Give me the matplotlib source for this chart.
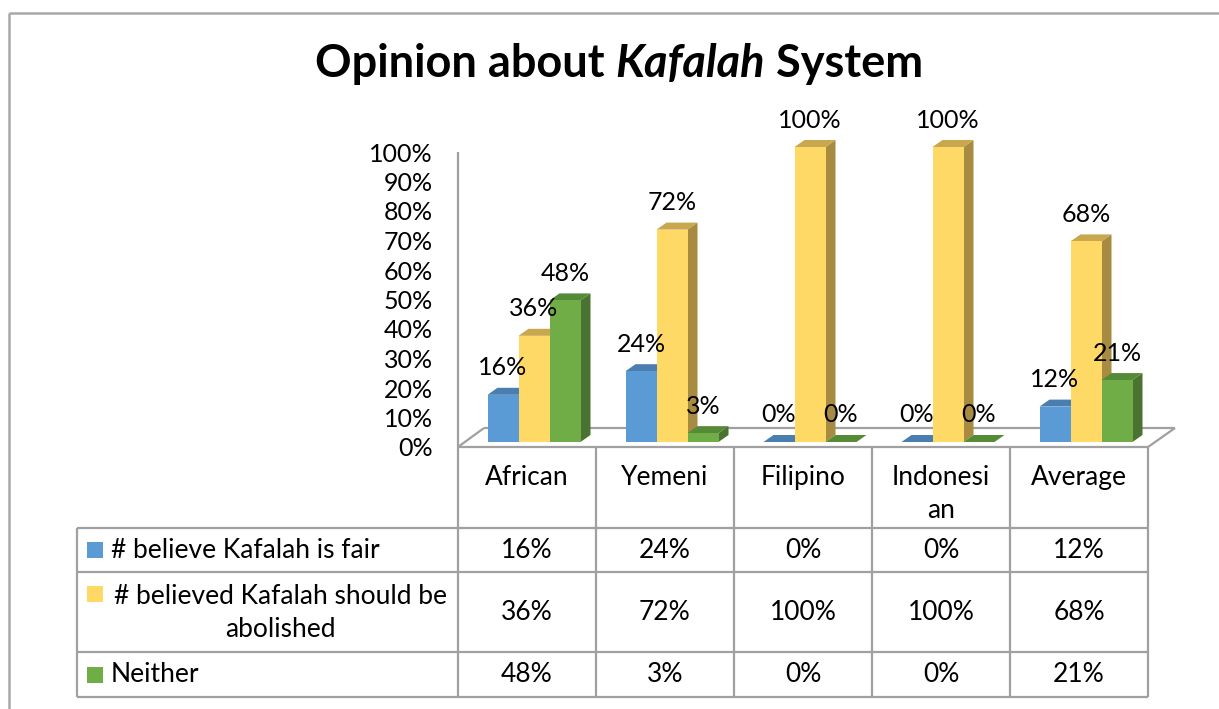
import textwrap
import matplotlib
matplotlib.use("Agg")
import matplotlib.pyplot as plt
from matplotlib.patches import Polygon, Rectangle
from matplotlib import transforms
from matplotlib.lines import Line2D

# ---- data ----
categories = ["African", "Yemeni", "Filipino", "Indonesian", "Average"]
series_names = ["# believe Kafalah is fair",
                "# believed Kafalah should be abolished",
                "Neither"]
fair = [0.16, 0.24, 0.00, 0.00, 0.12]
abolish = [0.36, 0.72, 1.00, 1.00, 0.68]
neither = [0.48, 0.03, 0.00, 0.00, 0.21]
y_ticks = [0.0, 0.1, 0.2, 0.3, 0.4, 0.5, 0.6, 0.7, 0.8, 0.9, 1.0]

series = [fair, abolish, neither]

# ---- styling ----
FONT = "Lato"
plt.rcParams["font.family"] = [FONT, "DejaVu Sans"]
front_col = ["#5B9BD5", "#FFD966", "#70AD47"]
top_col = ["#4A7DB0", "#C9A74C", "#558B37"]
side_col = ["#3D6A96", "#A68B40", "#4A7230"]
grid_col = "#A0A0A0"

W, H = 1219, 709
fig = plt.figure(figsize=(W / 100, H / 100), dpi=100)

# full-figure pixel canvas for frame, table and title
base = fig.add_axes([0, 0, 1, 1])
base.set_xlim(0, W)
base.set_ylim(H, 0)
base.axis("off")

def seg(x0, y0, x1, y1, lw=1.6, color=grid_col):
    base.add_line(Line2D([x0, x1], [y0, y1], color=color, lw=lw,
                         solid_capstyle="butt"))

# chart frame
seg(9, 13, W, 13, lw=1.8, color="#A8A8A8")
seg(9, 13, 9, H, lw=1.8, color="#A8A8A8")

# ---- plot area (front plane) ----
PL, PR, PB, PT = 458, 1148, 447, 152
ax = fig.add_axes([PL / W, 1 - PB / H, (PR - PL) / W, (PB - PT) / H])
ax.set_xlim(0, len(categories))
ax.set_ylim(0, 1)
ax.patch.set_alpha(0)
for s in ax.spines.values():
    s.set_visible(False)
ax.set_xticks([])
ax.set_yticks(y_ticks)
ax.set_yticklabels([f"{round(t * 100)}%" for t in y_ticks])
ax.tick_params(axis="y", length=0, pad=18, labelsize=18)

px_x = (PR - PL) / len(categories)   # pixels per category
px_y = (PB - PT)                     # pixels per unit value

# floor parallelogram and value axis line
fd_x, fd_y = 26, 19
seg(PL, PB, PR, PB)
seg(PL + fd_x, PB - fd_y, PR + fd_x + 1, PB - fd_y)
seg(PL, PB, PL + fd_x, PB - fd_y)
seg(PR, PB, PR + fd_x + 1, PB - fd_y)
seg(PL, PT, PL, PB)

# bars sit slightly back from the front plane
bar_tr = transforms.offset_copy(ax.transData, fig=fig, x=7, y=5, units="dots")
label_tr = transforms.offset_copy(ax.transData, fig=fig, x=7, y=5 + 27,
                                  units="dots")

bw = 31 / px_x
ddx, ddy = 10 / px_x, 7 / px_y

for si, vals in enumerate(series):
    for ci, v in enumerate(vals):
        xc = ci + 0.5 + (si - 1) * bw
        x0, x1 = xc - bw / 2, xc + bw / 2
        side = Polygon([(x1, 0), (x1, v), (x1 + ddx, v + ddy), (x1 + ddx, ddy)],
                       closed=True, facecolor=side_col[si], edgecolor="none",
                       transform=bar_tr, clip_on=False, zorder=3)
        top = Polygon([(x0, v), (x1, v), (x1 + ddx, v + ddy), (x0 + ddx, v + ddy)],
                      closed=True, facecolor=top_col[si], edgecolor="none",
                      transform=bar_tr, clip_on=False, zorder=3)
        ax.add_patch(side)
        ax.add_patch(top)
        if v > 0:
            ax.add_patch(Rectangle((x0, 0), bw, v, facecolor=front_col[si],
                                   edgecolor="none", transform=bar_tr,
                                   clip_on=False, zorder=3))
        ax.text(xc, v, f"{round(v * 100)}%", transform=label_tr,
                ha="center", va="center", fontsize=18, zorder=5)

# ---- title ----
fig.canvas.draw()
renderer = fig.canvas.get_renderer()
title_parts = [("Opinion about ", "normal"), ("Kafalah", "italic"), (" System", "normal")]
tsize = 32.5
pieces = []
for txt, style in title_parts:
    t = base.text(0, 64, txt, fontsize=tsize, fontweight="bold", fontstyle=style,
                  ha="left", va="center")
    pieces.append(t)
widths = [p.get_window_extent(renderer).width for p in pieces]
x = 619 - sum(widths) / 2
for p, w in zip(pieces, widths):
    p.set_x(x)
    x += w

# ---- data table ----
cols = [458, 596, 734, 872, 1010, 1148]
rows = [528, 572, 652, 697]
TL = 77
for cx in cols:
    seg(cx, PB, cx, rows[-1])
seg(TL, rows[0], TL, rows[-1])
for ry in rows:
    seg(TL, ry, cols[-1], ry)

tfs = 19
for ci, name in enumerate(categories):
    label = textwrap.fill(name, 8, break_long_words=True)
    base.text((cols[ci] + cols[ci + 1]) / 2, 465, label, ha="center", va="top",
              fontsize=tfs, linespacing=1.42)

key_h = 16
for si, (name, vals) in enumerate(zip(series_names, series)):
    r0, r1 = rows[si], rows[si + 1]
    yc = (r0 + r1) / 2
    for ci, v in enumerate(vals):
        base.text((cols[ci] + cols[ci + 1]) / 2, yc, f"{round(v * 100)}%",
                  ha="center", va="center", fontsize=tfs)
    label = textwrap.fill(name, 28)
    nlines = label.count("\n") + 1
    first_y = yc - (nlines - 1) * 18
    base.add_patch(Rectangle((87, first_y - key_h / 2), 16, key_h,
                             facecolor=front_col[si], edgecolor="none"))
    if nlines == 1:
        base.text(111, yc, label, ha="left", va="center", fontsize=tfs)
    else:
        base.text(280, yc + 1, label, ha="center", va="center", fontsize=tfs,
                  multialignment="center", linespacing=1.42)

fig.savefig("out.png", dpi=100)
